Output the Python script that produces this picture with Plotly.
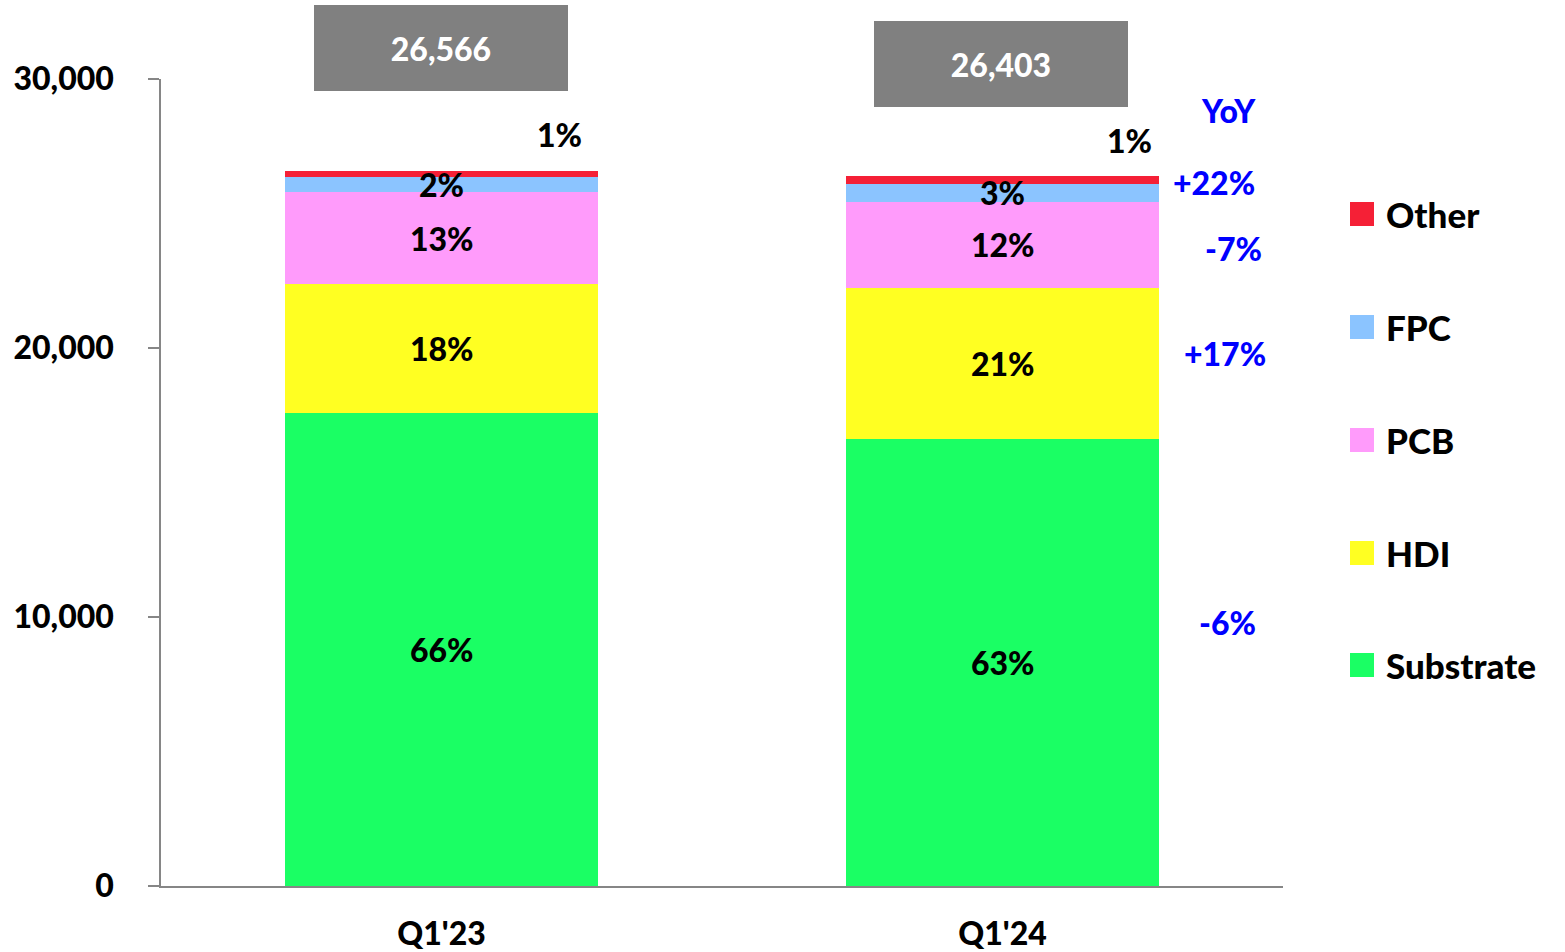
import plotly.graph_objects as go

# ---------------- data ----------------
quarters = ["Q1'23", "Q1'24"]
series_names = ["Substrate", "HDI", "PCB", "FPC", "Other"]
substrate = [17595, 16617]
hdi = [4773, 5603]
pcb = [3442, 3219]
fpc = [547, 647]
other = [209, 317]
totals = [26566, 26403]

substrate_share = ["66%", "63%"]
hdi_share = ["18%", "21%"]
pcb_share = ["13%", "12%"]
fpc_share = ["2%", "3%"]
other_share = ["1%", "1%"]

yoy_title = "YoY"
yoy_series = ["FPC", "PCB", "HDI", "Substrate"]
yoy_labels = ["+22%", "-7%", "+17%", "-6%"]

y_ticks = [0, 10000, 20000, 30000]

# ---------------- styling ----------------
colors = {
    "Substrate": "#1AFF64",
    "HDI": "#FFFF22",
    "PCB": "#FF9BFB",
    "FPC": "#8BC4FF",
    "Other": "#F52036",
}
FONT = "Lato"
WEIGHT = 900
W, H = 1565, 952
L, R, T, B = 161, 282, 79, 66
PW = W - L - R
PH = H - T - B


def px_to_paper_x(px):
    return (px - L) / PW


def px_to_paper_y(py):
    return (H - B - py) / PH


values = {
    "Substrate": substrate,
    "HDI": hdi,
    "PCB": pcb,
    "FPC": fpc,
    "Other": other,
}
shares = {
    "Substrate": substrate_share,
    "HDI": hdi_share,
    "PCB": pcb_share,
    "FPC": fpc_share,
    "Other": other_share,
}

fig = go.Figure()
for name in series_names:
    fig.add_trace(go.Bar(
        x=quarters, y=values[name], name=name,
        marker=dict(color=colors[name], line=dict(width=0)),
        showlegend=False, hoverinfo="x+y+name",
    ))

annotations = []

# segment share labels (middle of each segment, except Other)
for qi, q in enumerate(quarters):
    base = 0
    for name in series_names:
        v = values[name][qi]
        if name != "Other":
            annotations.append(dict(
                x=q, y=base + v / 2, xref="x", yref="y",
                text=shares[name][qi], showarrow=False,
                font=dict(family=FONT, size=32, color="black", weight=WEIGHT),
                xanchor="center", yanchor="middle",
            ))
        base += v

# "Other" share labels above right of bar
other_xshift = [118, 127]
other_yshift = [37, 35]
for qi, q in enumerate(quarters):
    annotations.append(dict(
        x=q, y=totals[qi], xref="x", yref="y",
        text=other_share[qi], showarrow=False,
        font=dict(family=FONT, size=32, color="black", weight=WEIGHT),
        xanchor="center", yanchor="middle",
        xshift=other_xshift[qi], yshift=other_yshift[qi],
    ))

# total boxes
box_center_py = [48.5, 64]
box_center_px = [440.5, 1000.5]
for qi, q in enumerate(quarters):
    annotations.append(dict(
        x=px_to_paper_x(box_center_px[qi]), y=px_to_paper_y(box_center_py[qi]),
        xref="paper", yref="paper",
        text=f"{totals[qi]:,}", showarrow=False,
        font=dict(family=FONT, size=32, color="white", weight=WEIGHT),
        bgcolor="#808080", width=254, height=86, borderpad=0, borderwidth=0,
        xanchor="center", yanchor="middle", align="center", valign="middle",
    ))

# YoY labels
yoy_pos = {
    "title": (1228, 110),
    "FPC": (1214, 182),
    "PCB": (1233, 248),
    "HDI": (1225, 354),
    "Substrate": (1227, 622),
}
tx, ty = yoy_pos["title"]
annotations.append(dict(
    x=px_to_paper_x(tx), y=px_to_paper_y(ty), xref="paper", yref="paper",
    text=yoy_title, showarrow=False,
    font=dict(family=FONT, size=32, color="#0000FF", weight=WEIGHT),
    xanchor="center", yanchor="middle",
))
for name, lab in zip(yoy_series, yoy_labels):
    px, py = yoy_pos[name]
    annotations.append(dict(
        x=px_to_paper_x(px), y=px_to_paper_y(py), xref="paper", yref="paper",
        text=lab, showarrow=False,
        font=dict(family=FONT, size=32, color="#0000FF", weight=WEIGHT),
        xanchor="center", yanchor="middle",
    ))

# manual legend (large square keys)
shapes = []
legend_order = ["Other", "FPC", "PCB", "HDI", "Substrate"]
legend_py = [214, 327, 440, 553, 665]
for name, py in zip(legend_order, legend_py):
    yc = px_to_paper_y(py)
    shapes.append(dict(
        type="rect", xref="paper", yref="paper",
        xsizemode="pixel", ysizemode="pixel",
        xanchor=px_to_paper_x(1350), yanchor=yc,
        x0=0, x1=24, y0=-12, y1=12,
        fillcolor=colors[name], line=dict(width=0),
    ))
    annotations.append(dict(
        x=px_to_paper_x(1384), y=yc, xref="paper", yref="paper",
        text=name, showarrow=False,
        font=dict(family=FONT, size=35, color="black", weight=WEIGHT),
        xanchor="left", yanchor="middle",
    ))

fig.update_layout(
    barmode="stack",
    bargap=0.443,
    width=W, height=H, autosize=False,
    margin=dict(l=L, r=R, t=T, b=B, pad=0, autoexpand=False),
    plot_bgcolor="white", paper_bgcolor="white",
    font=dict(family=FONT, size=32, color="black", weight=WEIGHT),
    annotations=annotations,
    shapes=shapes,
    showlegend=False,
    xaxis=dict(
        type="category", showline=True, linecolor="#868686", linewidth=2,
        ticks="", showgrid=False, zeroline=False, automargin=False,
        tickfont=dict(family=FONT, size=32, color="black", weight=WEIGHT),
        ticklabelstandoff=19,
    ),
    yaxis=dict(
        range=[0, 30000], tickvals=y_ticks, tickformat=",",
        showline=True, linecolor="#868686", linewidth=1.5, automargin=False,
        ticks="outside", ticklen=11, tickwidth=1.5, tickcolor="#868686",
        showgrid=False, zeroline=False,
        tickfont=dict(family=FONT, size=32, color="black", weight=WEIGHT),
        ticklabelstandoff=28,
    ),
)

fig.write_html("out.html")
